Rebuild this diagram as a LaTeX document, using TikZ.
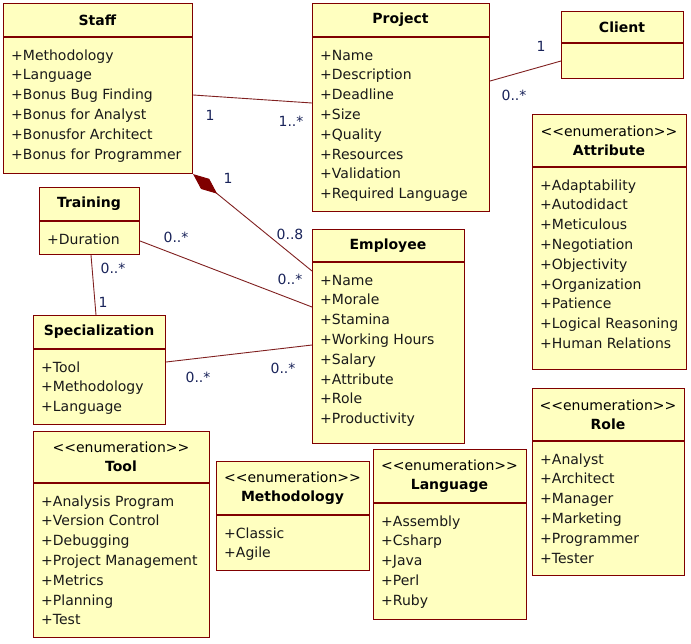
\documentclass[tikz,border=0pt]{standalone}
\usepackage{fontspec}
\setmainfont{DejaVu Sans}
\usetikzlibrary{arrows.meta}
\definecolor{umlfill}{RGB}{255,255,192}
\definecolor{umlline}{RGB}{128,0,0}
\definecolor{connline}{RGB}{128,32,32}
\definecolor{multc}{RGB}{25,35,90}
\definecolor{txtc}{RGB}{25,25,25}
\tikzset{
  umlbox/.style={rectangle, draw=umlline, fill=umlfill, line width=1.1pt, anchor=north west, inner sep=0pt},
  divline/.style={draw=umlline, line width=1.1pt},
  hdr/.style={inner sep=0pt, align=center, text=black, font=\fontsize{14}{19}\selectfont},
  attrs/.style={inner sep=0pt, anchor=north west, align=left, text=txtc, font=\fontsize{14}{19.8}\selectfont},
  conn/.style={draw=connline, line width=0.9pt},
  mult/.style={inner sep=0pt, text=multc, font=\fontsize{14}{16}\selectfont}
}
% #1 name, #2 x1, #3 y1, #4 x2, #5 ydiv, #6 y2, #7 header, #8 attributes
\newcommand\umlclass[8]{%
  \node[umlbox, minimum width={(#4-#2)*1pt}, minimum height={(#6-#3)*1pt}] (#1) at (#2,#3) {};
  \draw[divline] (#2,#5) -- (#4,#5);
  \node[hdr] (#1-h) at ({(#2+#4)/2},{(#3+#5)/2}) {#7};
  \node[attrs] (#1-a) at (#2+8,#5+9) {\strut#8};
}
\newcommand\enumhdr[1]{<{}<enumeration>{}>\\\textbf{#1}}
\begin{document}
\begin{tikzpicture}[x=1pt,y=-1pt]
\fill[white] (0,0) rectangle (691,643);
\useasboundingbox (0,0) rectangle (691,643);

\umlclass{staff}{3}{3}{192}{37}{173}{\textbf{Staff}}{+Methodology\\+Language\\+Bonus Bug Finding\\+Bonus for Analyst\\+Bonusfor Architect\\+Bonus for Programmer}
\umlclass{project}{312}{3}{489}{37}{211}{\textbf{Project}}{+Name\\+Description\\+Deadline\\+Size\\+Quality\\+Resources\\+Validation\\+Required Language}
\umlclass{client}{561}{11}{683}{43}{78}{\textbf{Client}}{}
\umlclass{attribute}{532}{114}{686}{167}{369}{\enumhdr{Attribute}}{+Adaptability\\+Autodidact\\+Meticulous\\+Negotiation\\+Objectivity\\+Organization\\+Patience\\+Logical Reasoning\\+Human Relations}
\umlclass{training}{39}{187}{139}{221}{254}{\textbf{Training}}{+Duration}
\umlclass{employee}{312}{229}{464}{262}{443}{\textbf{Employee}}{+Name\\+Morale\\+Stamina\\+Working Hours\\+Salary\\+Attribute\\+Role\\+Productivity}
\umlclass{specialization}{33}{315}{165}{349}{424}{\textbf{Specialization}}{+Tool\\+Methodology\\+Language}
\umlclass{tool}{33}{431}{209}{483}{637}{\enumhdr{Tool}}{+Analysis Program\\+Version Control\\+Debugging\\+Project Management\\+Metrics\\+Planning\\+Test}
\umlclass{methodology}{216}{461}{369}{515}{570}{\enumhdr{Methodology}}{+Classic\\+Agile}
\umlclass{language}{373}{449}{526}{503}{619}{\enumhdr{Language}}{+Assembly\\+Csharp\\+Java\\+Perl\\+Ruby}
\umlclass{role}{532}{388}{684}{441}{575}{\enumhdr{Role}}{+Analyst\\+Architect\\+Manager\\+Marketing\\+Programmer\\+Tester}

% connectors
\draw[conn] ([yshift=-92pt]staff.north east) -- ([yshift=-100pt]project.north west);
\draw[conn] ([yshift=-78pt]project.north east) -- ([yshift=-50pt]client.north west);
\draw[conn, {Diamond[length=31pt,width=13pt,fill=umlline,color=umlline]}-] (staff.south east) -- ([yshift=-42pt]employee.north west);
\draw[conn] ([yshift=-54pt]training.north east) -- ([yshift=-78pt]employee.north west);
\draw[conn] ([xshift=52pt]training.south west) -- ([xshift=63pt]specialization.north west);
\draw[conn] ([yshift=-47pt]specialization.north east) -- ([yshift=-116pt]employee.north west);

% multiplicities
\node[mult] (m1) at (210,115) {1};
\node[mult] (m2) at (291,121) {1..*};
\node[mult] (m3) at (541,46) {1};
\node[mult] (m4) at (514,95) {0..*};
\node[mult] (m5) at (228,178) {1};
\node[mult] (m6) at (290,234) {0..8};
\node[mult] (m7) at (176,237) {0..*};
\node[mult] (m8) at (290,279) {0..*};
\node[mult] (m9) at (113,268) {0..*};
\node[mult] (m10) at (103,302) {1};
\node[mult] (m11) at (198,377) {0..*};
\node[mult] (m12) at (283,368) {0..*};
\end{tikzpicture}
\end{document}
